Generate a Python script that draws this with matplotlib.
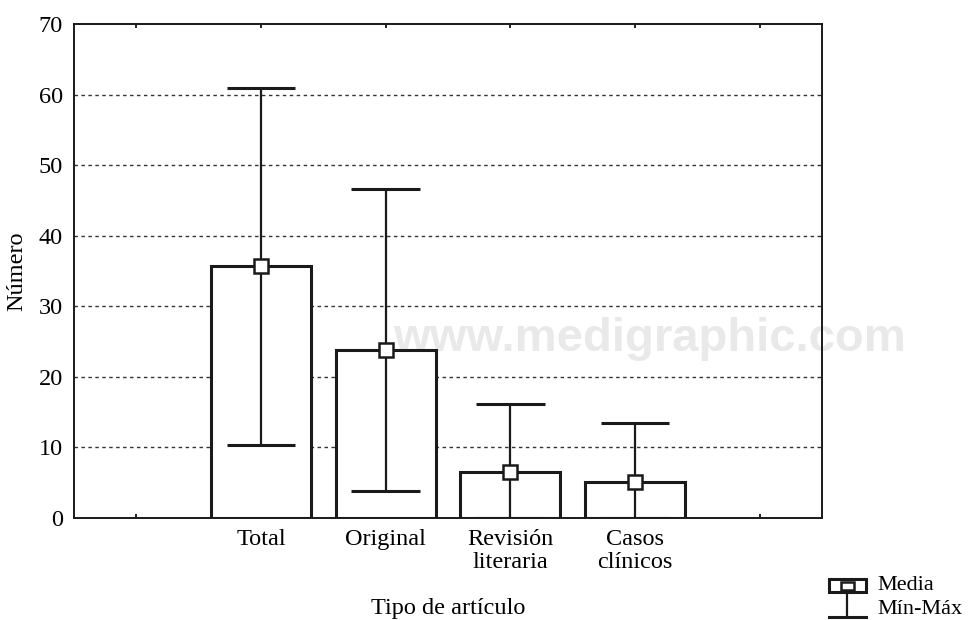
import matplotlib
matplotlib.use('Agg')
import matplotlib.pyplot as plt
from matplotlib.patches import Rectangle
from matplotlib.lines import Line2D

categorias = ['Total', 'Original', 'Revisión\nliteraria', 'Casos\nclínicos']
media = [35.7, 23.8, 6.5, 5.1]
minimo = [10.4, 3.8, 0.0, 0.0]
maximo = [61.0, 46.6, 16.1, 13.4]

plt.rcParams['font.family'] = ['Liberation Serif', 'DejaVu Serif']

fig = plt.figure(figsize=(9.7, 6.2), dpi=100)
ax = fig.add_axes([74 / 970, 1 - 518 / 620, (822 - 74) / 970, (518 - 24) / 620])
ax.set_facecolor('none')

# marca de agua detras de los ejes
fig.text(650 / 970, 1 - 351 / 620, 'www.medigraphic.com', ha='center', va='baseline',
         fontsize=34, fontweight='bold', family='Liberation Sans', color='#e9e9e9', zorder=-1)

pos = [1, 2, 3, 4]
ancho = 0.8
cap = 0.55
ax.bar(pos, media, width=ancho, facecolor='white', edgecolor='#1a1a1a', linewidth=2.2, zorder=2)
ax.vlines(pos, minimo, maximo, color='#1a1a1a', linewidth=1.6, zorder=3)
ax.hlines(maximo, [p - cap / 2 for p in pos], [p + cap / 2 for p in pos], color='#1a1a1a', linewidth=2.2, zorder=3)
ax.hlines(minimo, [p - cap / 2 for p in pos], [p + cap / 2 for p in pos], color='#1a1a1a', linewidth=2.2, zorder=3)
ax.plot(pos, media, linestyle='none', marker='s', markersize=9.5, markerfacecolor='white',
        markeredgecolor='#1a1a1a', markeredgewidth=1.8, zorder=4)

ax.set_xlim(-0.5, 5.5)
ax.set_ylim(0, 70)
ax.set_xticks([0, 1, 2, 3, 4, 5])
ax.set_xticklabels([''] + categorias + [''])
ax.set_yticks(range(0, 80, 10))
ax.tick_params(axis='x', direction='in', length=3, width=1.2, top=True, labelsize=17.5, pad=8)
ax.tick_params(axis='y', length=0, labelsize=17.5, pad=8)
for t in ax.get_xticklabels():
    t.set_linespacing(1.1)
for y in range(10, 70, 10):
    ax.axhline(y, color='#333333', linewidth=1.0, linestyle=(0, (2.5, 2.5)), zorder=1)
for s in ax.spines.values():
    s.set_linewidth(1.4)
    s.set_color('#1a1a1a')

ax.set_ylabel('Número', fontsize=17.5, labelpad=8)
ax.set_xlabel('Tipo de artículo', fontsize=17.5, labelpad=18)

# leyenda
def px(x, y):
    return x / 970, 1 - y / 620

x0, x1 = 829, 866
fig.add_artist(Rectangle(px(x0, 592), (x1 - x0) / 970, 13 / 620, transform=fig.transFigure,
                         facecolor='white', edgecolor='#1a1a1a', linewidth=2.2))
fig.add_artist(Rectangle(px(841, 590), 13 / 970, 8 / 620, transform=fig.transFigure,
                         facecolor='white', edgecolor='#1a1a1a', linewidth=1.8))
fig.add_artist(Line2D([847.5 / 970] * 2, [1 - 592 / 620, 1 - 617 / 620], transform=fig.transFigure,
                      color='#1a1a1a', linewidth=1.6))
fig.add_artist(Line2D([x0 / 970, x1 / 970], [1 - 617 / 620] * 2, transform=fig.transFigure,
                      color='#1a1a1a', linewidth=2.2))
fig.text(*px(877, 586), 'Media', ha='left', va='center', fontsize=16)
fig.text(*px(877, 609), 'Mín-Máx', ha='left', va='center', fontsize=16)

fig.savefig('out.png', dpi=100)
